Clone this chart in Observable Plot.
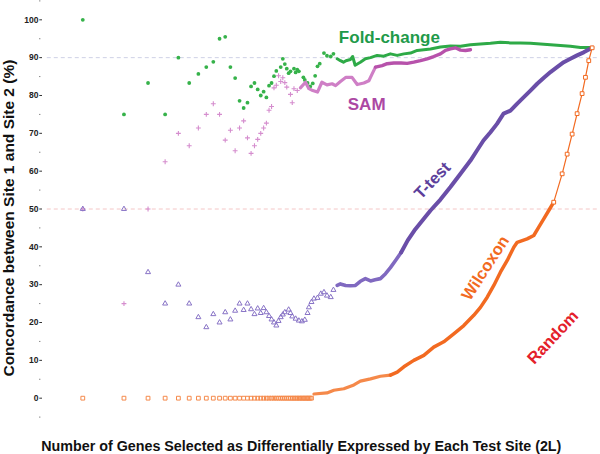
<!DOCTYPE html>
<html><head><meta charset="utf-8">
<script src="https://cdn.jsdelivr.net/npm/d3@7"></script>
<script src="https://cdn.jsdelivr.net/npm/@observablehq/plot@0.6"></script>
<style>body{margin:0;background:#fff}#chart{width:600px;height:454px}</style>
</head><body><div id="chart"></div>
<script>
// ---------- data (x = number of genes selected, 2L; y = concordance %) ----------
const yTicks = [0, 10, 20, 30, 40, 50, 60, 70, 80, 90, 100];
const yMinorTicks = [-5, 5, 15, 25, 35, 45, 55, 65, 75, 85, 95, 105];

// Fold-change
const foldX = [2,4,6,8,10,12,14,16,18,20,22,24,26,28,30,32,34,36,38,40,42,44,46,48,50,52,56,58,60,62,64,66,70,72,74,76,82,84,88,92,96,100,104,108,116,122,130,136];
const foldY = [100,75,83.3,75,90,83.3,85.7,87.5,88.9,95,95.5,87.5,84.6,78.6,76.7,78.1,82.4,83.3,81.6,80,81,79.5,82.6,83.3,85.1,86.5,87.5,89.7,88.3,87.1,85.9,86.4,87.1,86.1,86.8,86.4,84.8,84.1,83.3,82.4,83.2,85.2,87.7,88.4,91.2,90.5,90.3,91.0];
const foldDenseX = [145,153,161,168,181,188,196,214,233,254,284,317,355,398,445,498,557,623,697,824,975,1155,1366,1616,1913,2262,2679,3170,3750,4436,5254,6214,7348,8702,10596];
const foldDenseY = [89.7,89.2,88.8,89.2,89.5,90.3,88.0,88.8,89.7,90.0,90.6,90.4,91.0,90.6,91.0,91.2,91.9,92.1,92.3,92.8,93.1,93.0,93.4,93.6,93.8,94.1,93.9,93.9,93.8,93.6,93.4,93.2,93.0,92.7,92.7];

// SAM
const samX = [2,4,6,8,10,12,14,16,18,20,22,24,26,28,30,32,34,36,38,40,42,44,46,48,50,52,54,56,58,60,62,66,68,70,74];
const samY = [50,25,50,62.5,70,66.7,71.4,75,77.8,75,68.2,70.8,65.4,71.4,73.3,68.8,64.7,66.7,68.4,70,71.4,72.7,76.1,77.1,82,82.7,85.2,83.7,84.7,83.4,82.2,80.3,78.1,81.8,81.3];
const samDenseX = [78,85,90,96,104,112,122,133,141,153,168,186,203,227,247,261,276,309,336,376,425,471,526,589,659,736,824,897,975,1061,1155,1256,1366];
const samDenseY = [82.0,83.5,81.8,81.3,80.9,83.5,82.8,83.1,82.6,83.7,84.8,84.8,82.9,83.3,83.9,85.7,87.5,87.9,88.4,88.6,88.6,88.5,88.8,89.2,89.7,90.3,91.0,91.9,92.3,92.6,92.0,91.9,92.1];

// T-test
const tX = [2,4,6,8,10,12,14,16,18,20,22,24,26,28,30,32,34,36,38,40,42,44,46,48,50,52,54,56,58,60,64,66,68,72,76,80,84,88,90,94,98,104,110,116,122,130,136];
const tY = [50,50,33.3,25,30,25,21.4,18.75,22.2,20,22.7,20.8,23.1,25,23.3,25,23.5,22.2,23.7,22.5,23.8,22.7,21.7,20.8,20,19.2,20.4,21.4,22.1,22.7,23.4,22.5,21.6,21.0,20.5,20.3,20.7,22.5,24.0,25.4,26.3,26.5,27.6,28.0,27.1,26.7,28.6];
const tDenseX = [145,153,167,181,197,214,233,254,274,300,327,355,387,425,475,531,594,697,824,975,1155,1366,1520,1700,1913,2135,2385,2679,2990,3340,3750,4200,4700,5254,5870,6570,7348,8220,9190,10596];
const tDenseY = [29.8,30.2,29.8,29.7,29.8,30.9,31.6,31.0,31.3,31.6,32.9,34.5,36.4,38.5,41.7,44.3,46.5,49.6,52.5,55.8,59.3,62.8,65.4,68.1,70.3,72.5,75.2,76.0,77.8,79.5,81.3,83.1,84.7,86.2,87.5,88.8,89.7,90.6,91.4,92.6];

// Wilcoxon
const wilX = [2,4,6,8,10,12,14,16,18,20,22,24,26,28,30,32,34,36,38,40,42,44,46,48,50,52,54,56,58,60,62,64,66,68,70,72,74,76,78,80,82,84,86,88,90,92,94];
const wilY = [0,0,0,0,0,0,0,0,0,0,0,0,0,0,0,0,0,0,0,0,0,0,0,0,0,0,0,0,0,0,0,0,0,0,0,0,0,0,0,0,0,0,0,0,0,0,0];
const wilDenseX = [98,122,137,162,192,214,254,300,355,398,445,526,623,736,871,1031,1221,1444,1616,1811,2024,2262,2537,2834,3000,3548,3966,4314,4692,5104,5550,6396,6956,7566,8228,8950,9466,10010,10596];
const wilDenseY = [1.1,1.4,2.1,2.5,3.5,4.5,5.1,5.8,6.1,6.9,8.3,10.0,11.3,13.5,14.9,17.0,19.2,21.9,24.0,26.7,29.8,33.3,36.4,39.9,41.2,42.1,43.0,45.2,47.4,49.6,51.8,59.3,64.5,69.8,75.2,80.5,84.8,89.2,92.6];

const xLabel = "Number of Genes Selected as Differentially Expressed by Each Test Site (2L)";
const yLabel = "Concordance between Site 1 and Site 2 (%)";

// ---------- build ----------
const pts = (xs, ys) => xs.map((x, i) => ({x, y: ys[i]}));
const fold = pts(foldX, foldY), foldD = pts(foldDenseX, foldDenseY);
const sam = pts(samX, samY), samD = pts(samDenseX, samDenseY);
const tt = pts(tX, tY), ttD = pts(tDenseX, tDenseY);
const wil = pts(wilX, wilY), wilD = pts(wilDenseX, wilDenseY);
// where markers are sparse the band looks lighter; where they pile up it is solid
const samLight = samD.filter(d => d.x <= 276), samSolid = samD.filter(d => d.x >= 276);
const ttLight = ttD.filter(d => d.x <= 425), ttSolid = ttD.filter(d => d.x >= 425);
const wilLight = wilD.filter(d => d.x <= 355), wilMid = wilD.filter(d => d.x >= 355 && d.y <= 52), wilHigh = wilD.filter(d => d.y >= 51);

const C = {
  green: "#36b24a", greenD: "#2eaa47", greenT: "#1f9a4a",
  mag: "#d58dce", magL: "#cf7fc6", magD: "#b752ab", magT: "#ac48a3",
  pur: "#8873c6", purL: "#8069c0", purD: "#6a4ea8", purT: "#5c3f9b",
  org: "#f58a4c", orgL: "#f5894a", orgD: "#f26a21", orgT: "#f26a21",
  red: "#e4202a"
};

const chart = Plot.plot({
  width: 600, height: 454,
  marginLeft: 42, marginRight: 7.5, marginTop: 0.4, marginBottom: 37.4,
  style: {fontFamily: "'Liberation Sans', Arial, sans-serif", background: "#fff", overflow: "visible"},
  x: {type: "log", domain: [1.015, 10750], axis: null},
  y: {domain: [-5, 105], axis: null},
  marks: [
    Plot.ruleY([90], {x1: 1.1, x2: 12000, stroke: "#cfd1e6", strokeDasharray: "4,3"}),
    Plot.ruleY([50], {x1: 1.1, x2: 12000, stroke: "#f4c6c6", strokeDasharray: "4,3"}),
    Plot.axisY(yTicks, {anchor: "left", tickSize: 2.7, tickPadding: 1.3, fontWeight: "bold", fontSize: 8.5, fill: "#222", stroke: "#333", label: null}),
    Plot.axisY(yMinorTicks, {anchor: "left", tickSize: 1, dx: -1.7, text: null, stroke: "#555", label: null}),
    // Fold-change
    Plot.line(foldD, {x: "x", y: "y", stroke: C.greenD, strokeWidth: 3}),
    Plot.dot(fold, {x: "x", y: "y", r: 1.9, fill: C.green, symbol: "circle"}),
    // SAM
    Plot.line(samLight, {x: "x", y: "y", stroke: C.magL, strokeWidth: 3.2}),
    Plot.line(samSolid, {x: "x", y: "y", stroke: C.magD, strokeWidth: 3.4}),
    Plot.dot(sam, {x: "x", y: "y", r: 1.7, stroke: C.mag, strokeWidth: 1.1, symbol: "plus"}),
    // T-test
    Plot.line(ttLight, {x: "x", y: "y", stroke: C.purL, strokeWidth: 3.6}),
    Plot.line(ttSolid, {x: "x", y: "y", stroke: C.purD, strokeWidth: 4}),
    Plot.dot(tt, {x: "x", y: "y", r: 2.4, stroke: C.pur, strokeWidth: 1, fill: "none", symbol: "triangle2"}),
    // Wilcoxon
    Plot.line(wilLight, {x: "x", y: "y", stroke: C.orgL, strokeWidth: 3.2}),
    Plot.line(wilMid, {x: "x", y: "y", stroke: C.orgD, strokeWidth: 3.5}),
    Plot.line(wilHigh, {x: "x", y: "y", stroke: C.orgD, strokeWidth: 1.2}),
    Plot.dot(wil, {x: "x", y: "y", r: 2.4, stroke: C.org, strokeWidth: 1, fill: "none", symbol: "square2"}),
    Plot.dot(wilHigh, {x: "x", y: "y", r: 2.4, stroke: C.orgD, strokeWidth: 1, fill: "#fff", symbol: "square2"}),
    // series labels
    Plot.text([{t: "Fold-change", x: 349, y: 95.2}], {x: "x", y: "y", text: "t", fill: C.greenT, fontSize: 17, fontWeight: "bold"}),
    Plot.text([{t: "SAM", x: 238, y: 77.7}], {x: "x", y: "y", text: "t", fill: C.magT, fontSize: 17, fontWeight: "bold"}),
    Plot.text([{t: "T-test", x: 720, y: 57.5}], {x: "x", y: "y", text: "t", fill: C.purT, fontSize: 16.5, fontWeight: "bold", rotate: -46}),
    Plot.text([{t: "Wilcoxon", x: 1759, y: 34.4}], {x: "x", y: "y", text: "t", fill: C.orgT, fontSize: 16.5, fontWeight: "bold", rotate: -57}),
    Plot.text([{t: "Random", x: 5478, y: 16.1}], {x: "x", y: "y", text: "t", fill: C.red, fontSize: 16.5, fontWeight: "bold", rotate: -47}),
    // axis titles
    Plot.text([{t: yLabel, y: 47.6}], {y: "y", text: "t", frameAnchor: "left", textAnchor: "middle", dx: -28.5, rotate: -90, lineAnchor: "bottom", fontSize: 15.5, fontWeight: "bold", fill: "#111"}),
    Plot.text([xLabel], {frameAnchor: "bottom", textAnchor: "middle", dx: -16.5, dy: 33.4, lineAnchor: "bottom", fontSize: 14.3, fontWeight: "bold", fill: "#111"})
  ]
});
document.getElementById("chart").appendChild(chart);
</script>
</body></html>
